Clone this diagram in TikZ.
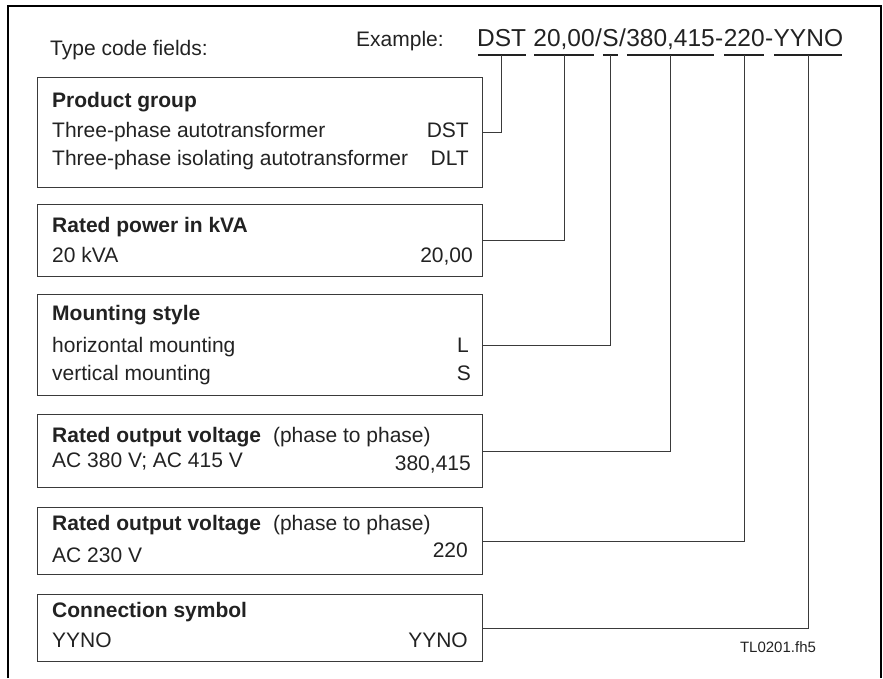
\documentclass[tikz,border=0pt]{standalone}
\usepackage{fontspec}
\setmainfont{Liberation Sans}
\usepackage{xcolor}
\usepackage{tikz}
\usetikzlibrary{positioning}
\definecolor{ink}{HTML}{222222}
\definecolor{wire}{HTML}{3A3A3A}
\tikzset{
  field/.style={draw=wire,line width=0.9pt,anchor=north west,minimum width=445pt,inner sep=0pt},
  entry/.style={anchor=base west,inner sep=0pt,font=\fontsize{21}{24}\selectfont,text=ink},
  head/.style={entry,font=\fontsize{21}{24}\selectfont\bfseries},
  value/.style={entry,anchor=base east},
  code/.style={anchor=base west,inner sep=0pt,font=\fontsize{24.5}{28}\selectfont,text=ink},
  uline/.style={draw=ink,line width=1.8pt},
  link/.style={draw=wire,line width=0.8pt},
  frame/.style={draw=black,line width=2.2pt},
  tag/.style={inner sep=0pt,font=\fontsize{15}{17}\selectfont,text=ink},
}

\begin{document}
\begin{tikzpicture}[x=1pt,y=-1pt]
  \useasboundingbox (0,0) rectangle (883,678);
  \draw[frame] (8,678) -- (8,6) -- (881,6) -- (881,678);
  % type code line
  \node[entry] (tcf) at (50,55) {Type code fields:};
  \node[entry] (ex) at (356,46) {Example:};
  \node[code] (cdst) at (477,46) {DST};
  \node[code,base right=6.8pt of cdst] (c20) {20,00};
  \node[code,base right=0pt of c20] (sl1) {/};
  \node[code,base right=0pt of sl1] (cs) {S};
  \node[code,base right=0pt of cs] (sl2) {/};
  \node[code,base right=0pt of sl2] (c380) {380,415};
  \node[code,base right=0pt of c380] (hy1) {-};
  \node[code,base right=0pt of hy1] (c220) {220};
  \node[code,base right=0pt of c220] (hy2) {-};
  \node[code,base right=0pt of hy2] (cyy) {YYNO};
  \foreach \c in {cdst,c20,cs,c380,c220,cyy}
    \draw[uline] ([yshift=-9pt,xshift=0.8pt]\c.base west) -- ([yshift=-9pt,xshift=-0.8pt]\c.base east);
  % fields
  \node[field,minimum height=110pt] (pg) at (37,77) {};
  \node[head] (pgh) at (52,107.5) {Product group};
  \node[entry] (pg1) at (52,137.5) {Three-phase autotransformer};
  \node[value] (pgv1) at (469,137.5) {DST};
  \node[entry] (pg2) at (52,165.5) {Three-phase isolating autotransformer};
  \node[value] (pgv2) at (469,165.5) {DLT};

  \node[field,minimum height=72pt] (rp) at (37,204) {};
  \node[head] (rph) at (52,232.5) {Rated power in kVA};
  \node[entry] (rp1) at (52,262.5) {20 kVA};
  \node[value] (rpv1) at (473,262.5) {20,00};

  \node[field,minimum height=101pt] (ms) at (37,294) {};
  \node[head] (msh) at (52,320.5) {Mounting style};
  \node[entry] (ms1) at (52,352.5) {horizontal mounting};
  \node[value] (msv1) at (469,352.5) {L};
  \node[entry] (ms2) at (52,380.5) {vertical mounting};
  \node[value] (msv2) at (471,380.5) {S};

  \node[field,minimum height=73pt] (ov) at (37,414) {};
  \node[head] (ovh) at (52,442.5) {Rated output voltage\hspace{12pt}\mdseries(phase to phase)};
  \node[entry] (ov1) at (52,467.5) {AC 380 V; AC 415 V};
  \node[value] (ovv1) at (471,470.5) {380,415};

  \node[field,minimum height=67pt] (lv) at (37,507) {};
  \node[head] (lvh) at (52,530.5) {Rated output voltage\hspace{12pt}\mdseries(phase to phase)};
  \node[entry] (lv1) at (52,562.5) {AC 230 V};
  \node[value] (lvv1) at (468,557.5) {220};

  \node[field,minimum height=67pt] (cn) at (37,594) {};
  \node[head] (cnh) at (52,617.5) {Connection symbol};
  \node[entry] (cn1) at (52,647.5) {YYNO};
  \node[value] (cnv1) at (468,647.5) {YYNO};

  \node[tag] (tl) at (778,647) {TL0201.fh5};
  % connectors
  \foreach \c/\f in {cdst/pg,c20/rp,cs/ms,c380/ov,c220/lv,cyy/cn}
    \draw[link] ([yshift=-9pt]\c.base) |- (\f.east);
\end{tikzpicture}
\end{document}
